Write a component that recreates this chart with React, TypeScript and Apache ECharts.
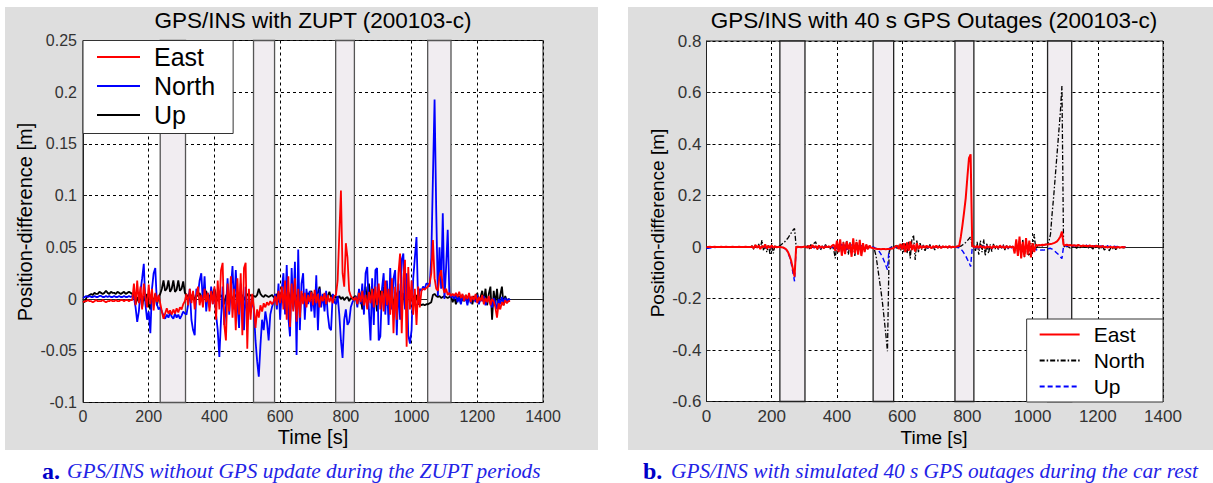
import React, { useEffect, useRef } from "react";
import * as echarts from "echarts";

// Sampling step of every series below (seconds); values are in millimetres.
const STEP_S = 5;

// ---------- Panel a: GPS/INS with ZUPT (t = 0 .. 1300 s) ----------
const EAST_A = [
  // 0-150
  -3,-2,-2,-1,-2,-2,-3,-2,-1,-2,-2,-2,-1,-2,-3,-2,-2,-1,-2,-2,-1,-2,-2,-1,-1,-2,-1,-1,-2,-1,-1,
  // 155-230
  15,-6,18,-4,12,-10,15,2,-8,14,-5,10,-11,6,-3,4,
  // 235-310
  -4,-12,-19,-14,-9,-14,-11,-15,-10,-14,-9,-13,-8,-10,-5,-2,
  // 315-515
  5,-6,10,-4,8,-10,3,12,-6,4,-8,10,-3,6,-12,8,-5,12,-20,18,-10,28,35,-25,-40,15,-12,22,-18,10,-30,20,-15,25,-35,30,35,-48,10,-20,5,
  // 520-580
  -8,-28,-10,-18,-6,-12,-4,-8,-3,-6,-2,-5,-3,
  // 585-765
  3,-6,8,-4,12,-10,18,-20,22,-27,15,-12,20,-22,10,-18,8,-5,6,-8,4,-3,7,-6,9,-4,5,-8,3,-2,6,-5,4,-3,2,-4,3,
  // 770-825
  4,18,62,105,25,12,54,40,8,3,1,-1,
  // 830-1045
  2,-5,6,-3,8,-6,4,-10,7,-4,10,-8,12,-6,15,-10,8,-12,18,-6,10,-15,20,-33,12,-20,25,44,-33,20,38,-46,31,-10,18,-15,10,-25,12,-8,8,10,9,11,
  // 1050-1120
  12,15,25,57,20,10,8,22,28,12,6,10,4,6,3,
  // 1125-1300
  5,3,6,2,7,1,5,-2,4,0,6,-3,3,-1,5,-4,2,-2,4,-5,1,-3,3,-6,0,-2,-8,-18,-4,-10,-3,-6,-1,-4,-2,-2,
];
const NORTH_A = [
  1,2,3,2,3,2,2,3,2,2,3,3,2,2,3,2,3,2,2,3,2,2,3,2,2,3,2,2,3,2,3,
  2,-8,-22,-12,8,20,34,-5,-20,-12,-33,10,25,30,-5,-10,
  -8,-12,-16,-19,-15,-18,-13,-17,-19,-14,-18,-15,-19,-16,-12,-14,
  -15,-5,10,-20,-30,-35,10,5,18,25,-5,22,-12,6,-8,12,-5,8,-15,-30,-56,-20,12,-25,-8,20,-15,10,32,-10,28,-5,-28,15,-8,-30,12,-20,5,-12,-2,
  -10,-40,-60,-75,-45,-20,-30,-12,-22,-40,-15,-8,-3,
  5,-10,15,-20,10,25,-15,33,-18,-36,30,-10,36,-54,48,-30,15,25,-20,10,-5,8,-12,5,-18,23,-30,10,-8,5,-12,8,-15,-28,-30,5,-3,
  -5,3,-15,-40,-57,-20,-10,-25,-22,-8,-3,0,
  2,-8,10,-5,15,-15,25,31,-10,-40,20,-25,28,30,-40,-36,10,25,-15,18,-25,30,-10,20,28,-35,15,-20,38,44,-10,25,-35,-43,-30,20,40,60,-5,10,8,12,10,15,
  15,12,40,118,193,86,3,50,10,83,0,30,67,5,2,
  3,0,5,-3,2,-5,4,-2,1,-6,3,-4,2,0,-3,4,-5,1,-2,3,-6,-1,2,-4,-8,1,-3,-10,0,-5,2,-3,1,-2,0,-1,
];
const UP_A = [
  -2,-3,1,3,4,5,4,6,5,5,7,6,5,6,8,6,5,7,6,6,5,7,6,5,6,7,5,6,7,6,5,
  4,-5,2,-3,6,-8,3,-2,5,-4,-10,2,-3,5,-6,2,
  5,10,18,8,10,18,7,10,18,7,9,18,8,10,17,6,
  4,2,6,1,5,-2,4,3,6,0,5,2,8,-3,4,1,6,10,3,-2,5,2,4,-5,3,6,1,4,-2,5,3,0,6,2,4,-1,3,5,2,4,3,
  3,2,4,10,5,3,2,4,3,2,3,4,2,
  2,5,-3,6,1,4,-5,3,7,0,5,-8,4,2,6,-2,3,5,1,-4,6,3,8,-2,5,4,6,12,-3,2,4,-5,3,7,1,4,2,
  2,1,3,0,2,-1,1,2,-2,1,0,2,
  3,-5,8,2,-10,6,12,-4,15,3,-8,10,2,-12,6,8,-3,12,4,-6,9,-2,5,-10,7,3,-5,8,-2,6,-8,4,10,-4,6,2,-3,4,-5,-4,-6,-5,-6,-5,
  -5,-4,-3,4,5,3,2,3,1,2,3,2,1,2,3,
  -3,2,-5,0,3,-4,1,-2,4,-3,0,2,-5,3,-1,6,-4,2,8,-3,10,-6,5,12,-20,8,-5,10,-8,4,12,-6,3,-2,0,-1,
];

// ---------- Panel b: 40 s GPS outages (t = 0 .. 1285 s) ----------
const EAST_B = [
  0,0,1,0,0,1,0,0,0,1,0,0,1,0,0,0,1,0,0,0,1,0,0,0,1,0,0,0,
  2,-5,8,-3,6,-8,4,-2,10,-6,5,-4,7,-3,2,-1,0,
  0,-1,-2,-5,-10,-20,-35,-55,-85,-115,
  0,1,0,-1,0,1,
  2,-3,5,-6,8,-2,4,-8,6,-3,2,-5,4,-1,3,-2,5,
  10,-15,25,-20,30,-34,18,-28,22,-10,15,-38,34,-25,20,-30,28,-35,15,-20,10,-8,5,-3,
  -4,-6,-7,-8,-8,-9,-8,-8,-9,-8,-8,-7,-6,
  -3,2,5,-8,12,-10,15,-20,18,-15,22,-12,10,-18,15,-8,6,-5,4,-3,5,-2,3,-6,4,-2,5,-3,2,-4,3,-1,2,-3,4,-2,1,0,
  1,3,5,40,85,135,190,270,345,360,2,
  3,-2,5,-4,6,-3,2,-5,4,-2,3,-6,5,-1,2,-4,6,-2,3,-5,4,-3,2,-1,3,-25,30,-35,40,-44,20,-38,35,-30,25,-40,15,-20,10,5,8,7,9,8,10,
  10,11,12,13,15,18,22,30,40,60,
  8,7,9,6,8,5,7,6,4,8,5,3,6,4,5,2,6,3,4,1,5,2,3,0,4,-2,2,-3,1,0,-2,1,-3,0,-1,-2,0,-1,0,
];
const NORTH_B = [
  0,0,-1,0,1,0,0,-1,0,0,1,0,0,0,-1,0,0,1,0,0,0,-1,0,0,1,0,0,0,
  5,-10,8,-5,12,-8,27,-15,8,-20,10,-31,15,-25,8,0,2,
  5,10,15,20,28,35,45,55,65,72,
  0,-2,1,-1,0,2,
  -3,5,-8,10,-5,15,20,-10,8,-12,5,-6,10,-4,3,-8,5,
  -10,-44,15,-20,10,-25,20,-15,25,-30,18,-22,12,-35,28,-18,22,-30,15,-10,8,-12,5,-3,
  -3,-10,-35,-80,-125,-170,-220,-280,-340,-405,-20,-3,2,
  0,5,-10,8,-15,12,-20,15,-25,20,-44,30,47,-50,25,-20,15,-10,8,-18,5,-8,10,-5,3,-12,6,-4,8,-6,3,-2,5,-4,2,-3,1,0,
  0,1,2,3,8,12,18,25,32,40,0,
  5,-15,20,-30,25,-20,30,-35,15,-25,10,-18,12,-8,5,-10,8,-5,10,-12,6,-8,4,-3,5,-15,20,-30,25,-35,30,-40,20,-25,-35,15,-20,50,-10,5,5,3,4,6,10,
  10,20,50,130,200,280,360,440,520,625,
  5,-3,2,0,-4,3,-2,1,-5,2,-3,0,4,-2,1,-6,3,-1,-8,2,-4,5,-10,-3,2,-12,-5,0,-15,-3,-8,2,-10,-4,-1,-6,-2,-3,-1,
];
const UP_B = [
  -5,-5,-4,-3,-2,-2,-1,-1,0,0,-1,0,0,-1,0,0,0,-1,0,0,0,0,-1,0,0,0,0,0,
  1,-3,4,-2,5,-4,3,-5,2,-6,3,-4,2,-3,1,0,0,
  0,-1,-3,-6,-12,-22,-40,-65,-100,-133,
  0,0,1,0,-1,0,
  1,-2,3,-3,2,-4,5,-2,3,-5,2,-1,4,-3,2,-2,1,
  -4,5,-8,10,-6,12,-10,8,-12,6,-8,10,-5,7,-10,5,-8,6,-4,3,-5,2,-3,1,
  0,-2,-5,-10,-18,-28,-40,-55,-72,-88,-5,-2,0,
  2,-3,4,-5,3,-6,5,-4,6,-8,4,-5,7,-3,5,-6,3,-2,4,-3,2,-4,3,-2,1,-3,2,-1,3,-2,1,-2,2,-1,1,0,-1,0,
  -1,-2,-3,-8,-15,-25,-35,-48,-60,-76,-2,
  2,-5,4,-6,3,-8,5,-4,6,-3,4,-7,3,-5,2,-4,5,-3,4,-6,3,-5,2,-4,3,-8,6,-10,8,-12,5,-8,4,-6,3,-10,-12,-8,-10,-12,-10,-12,-11,-12,-10,
  -8,-6,-5,-8,-12,-18,-24,-30,-38,-45,
  2,4,3,6,2,5,3,7,1,4,6,2,5,3,8,2,4,6,1,5,3,7,2,4,1,6,3,5,0,4,2,3,1,2,0,1,-1,0,0,
];

// Rest / outage periods (s)
const BANDS_A = [[235, 312], [519, 583], [769, 826], [1049, 1120]];
const BANDS_B = [[225, 302], [511, 574], [762, 820], [1046, 1120]];

const LEGEND_NAMES = ["East", "North", "Up"];
const TITLE_A = "GPS/INS with ZUPT (200103-c)";
const TITLE_B = "GPS/INS with 40 s GPS Outages (200103-c)";
const Y_NAME = "Position-difference [m]";
const X_NAME = "Time [s]";
const CAPTION_A = "GPS/INS without GPS update during the ZUPT periods";
const CAPTION_B = "GPS/INS with simulated 40 s GPS outages during the car rest";

const SANS = "'Liberation Sans', Arial, Helvetica, sans-serif";
const SERIF = "'Liberation Serif', 'Times New Roman', serif";

const toPts = (arr: number[]) => arr.map((v, i) => [i * STEP_S, v / 1000]);

function axisPair(grid: number, ymin: number, ymax: number, yint: number, fs: number, ymargin: number) {
  const split = { show: true, lineStyle: { color: "#000", width: 1, type: [3, 3] as any } };
  const x = {
    gridIndex: grid, type: "value", min: 0, max: 1400, interval: 200,
    axisLine: { show: true, lineStyle: { color: "#222", width: 1 } },
    axisTick: { show: true, inside: true, length: 4, lineStyle: { color: "#222" } },
    axisLabel: { fontSize: fs, fontFamily: SANS, color: "#333", margin: 6, formatter: (v: number) => String(v) },
    splitLine: split,
  };
  const y = {
    gridIndex: grid, type: "value", min: ymin, max: ymax, interval: yint,
    axisLine: { show: true, lineStyle: { color: "#222", width: 1 } },
    axisTick: { show: true, inside: true, length: 4, lineStyle: { color: "#222" } },
    axisLabel: {
      fontSize: fs, fontFamily: SANS, color: "#333", margin: ymargin,
      formatter: (v: number) => String(Math.round(v * 1000) / 1000),
    },
    splitLine: split,
  };
  return { x, y };
}

function bandArea(bands: number[][], border: string) {
  return {
    silent: true,
    itemStyle: { color: "#f1edf1", borderColor: border, borderWidth: 1.3 },
    label: { show: false },
    data: bands.map(([a, b]) => [{ xAxis: a }, { xAxis: b }]),
  };
}

function txt(x: number, y: number, text: string, fontSize: number, extra: any = {}, rotation = 0) {
  return {
    type: "text", x, y, rotation,
    style: { text, fontSize, fontFamily: SANS, fill: "#000", align: "center", verticalAlign: "middle", ...extra },
  };
}

export default function App() {
  const ref = useRef<HTMLDivElement>(null);

  useEffect(() => {
    if (!ref.current) return;
    const chart = echarts.init(ref.current, undefined, { renderer: "svg" });
    const a = axisPair(0, -0.1, 0.25, 0.05, 16, 6);
    const b = axisPair(1, -0.6, 0.8, 0.2, 17, 5);

    const option: any = {
      animation: false,
      backgroundColor: "transparent",
      grid: [
        { left: 83, top: 40.5, width: 460, height: 362, show: true, backgroundColor: "#fff", borderColor: "#222", borderWidth: 1 },
        { left: 706.5, top: 41, width: 456.5, height: 360.5, show: true, backgroundColor: "#fff", borderColor: "#222", borderWidth: 1 },
      ],
      xAxis: [a.x, b.x],
      yAxis: [a.y, b.y],
      legend: [
        {
          data: LEGEND_NAMES, orient: "vertical", left: 83, top: 40.5,
          backgroundColor: "#fff", borderColor: "#333", borderWidth: 1,
          padding: [4, 18, 6, 13], itemGap: 4, itemWidth: 43, itemHeight: 10,
          itemStyle: { opacity: 0 },
          textStyle: { fontSize: 25, fontFamily: SANS, color: "#000", padding: [0, 0, 0, 9] },
          selectedMode: false,
        },
        {
          data: LEGEND_NAMES.map((n) => n + " "), orient: "vertical", right: 50, bottom: 81,
          backgroundColor: "#fff", borderColor: "#333", borderWidth: 1,
          padding: [5, 18, 5, 12], itemGap: 5, itemWidth: 40, itemHeight: 10,
          itemStyle: { opacity: 0 },
          formatter: (n: string) => n.trim(),
          textStyle: { fontSize: 21, fontFamily: SANS, color: "#000", padding: [0, 0, 0, 9] },
          selectedMode: false,
        },
      ],
      series: [
        {
          name: "East", type: "line", xAxisIndex: 0, yAxisIndex: 0, data: toPts(EAST_A),
          symbol: "none", z: 4, lineStyle: { color: "#ff0000", width: 1.8 }, itemStyle: { color: "#ff0000" },
          markArea: bandArea(BANDS_A, "#555"),
        },
        {
          name: "North", type: "line", xAxisIndex: 0, yAxisIndex: 0, data: toPts(NORTH_A),
          symbol: "none", z: 3, lineStyle: { color: "#0000ff", width: 1.8 }, itemStyle: { color: "#0000ff" },
        },
        {
          name: "Up", type: "line", xAxisIndex: 0, yAxisIndex: 0, data: toPts(UP_A),
          symbol: "none", z: 2, lineStyle: { color: "#000000", width: 1.8 }, itemStyle: { color: "#000000" },
        },
        {
          name: "East ", type: "line", xAxisIndex: 1, yAxisIndex: 1, data: toPts(EAST_B),
          symbol: "none", z: 4, lineStyle: { color: "#ff0000", width: 2 }, itemStyle: { color: "#ff0000" },
          markArea: bandArea(BANDS_B, "#222"),
        },
        {
          name: "North ", type: "line", xAxisIndex: 1, yAxisIndex: 1, data: toPts(NORTH_B),
          symbol: "none", z: 2, lineStyle: { color: "#000000", width: 1.3, type: [5, 2, 1.5, 2] }, itemStyle: { color: "#000000" },
        },
        {
          name: "Up ", type: "line", xAxisIndex: 1, yAxisIndex: 1, data: toPts(UP_B),
          symbol: "none", z: 3, lineStyle: { color: "#0000ff", width: 1.4, type: [5, 3] }, itemStyle: { color: "#0000ff" },
        },
      ],
      graphic: [
        txt(313, 20, TITLE_A, 22.5),
        txt(934, 20, TITLE_B, 22.5),
        txt(25, 222, Y_NAME, 20, {}, Math.PI / 2),
        txt(657, 223, Y_NAME, 19, {}, Math.PI / 2),
        txt(313, 437, X_NAME, 20),
        txt(934, 437, X_NAME, 19),
        txt(42, 471, "a.", 24, { fontFamily: SERIF, fontWeight: "bold", fill: "#0000c8", align: "left" }),
        txt(67, 471, CAPTION_A, 21.3, { fontFamily: SERIF, fontStyle: "italic", fill: "#2323e6", align: "left" }),
        txt(643, 471, "b.", 24, { fontFamily: SERIF, fontWeight: "bold", fill: "#0000c8", align: "left" }),
        txt(671, 471, CAPTION_B, 21.3, { fontFamily: SERIF, fontStyle: "italic", fill: "#2323e6", align: "left" }),
      ],
    };
    chart.setOption(option);
    return () => chart.dispose();
  }, []);

  return (
    <div style={{ position: "absolute", left: 0, top: 0, width: 1213, height: 483, background: "#fff", overflow: "hidden" }}>
      <div style={{ position: "absolute", left: 5, top: 7, width: 593, height: 443, background: "#dedede" }} />
      <div style={{ position: "absolute", left: 628, top: 7, width: 585, height: 443, background: "#dedede" }} />
      <div ref={ref} style={{ position: "absolute", left: 0, top: 0, width: 1213, height: 483 }} />
    </div>
  );
}
